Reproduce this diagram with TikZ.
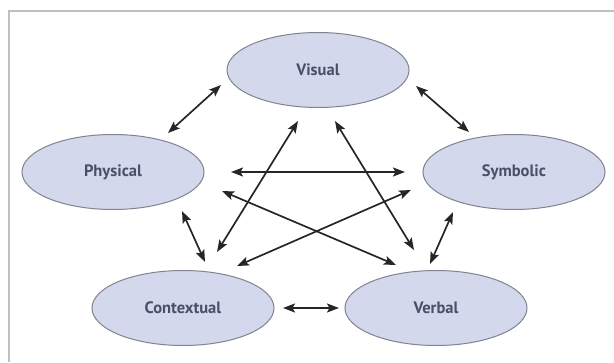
\documentclass[tikz,border=0pt]{standalone}
\usepackage{fontspec}
\setmainfont{PT Sans}
\usetikzlibrary{arrows.meta,shapes.geometric}
\definecolor{modefill}{HTML}{D3D8EC}
\definecolor{modeline}{HTML}{80838F}
\definecolor{modetext}{HTML}{4A4F68}

\begin{document}
\begin{tikzpicture}[x=1pt, y=-1pt,
		mode/.style = {ellipse, draw = modeline, fill = modefill, line width = 1pt,
			minimum width = 182pt, minimum height = 75pt, inner sep = 0pt,
			text = modetext, font = \bfseries\fontsize{16.5}{19}\selectfont},
		link/.style = {{Stealth[length=12pt,width=9pt,inset=2.5pt]}-{Stealth[length=12pt,width=9pt,inset=2.5pt]},
			line width = 1.7pt, color = black!85},
		frame/.style = {draw = black!25, line width = 2pt}]
			\useasboundingbox (0,0) rectangle (614,362);
			\draw[frame] (9,362) -- (9,11) -- (614,11);

			\node[mode] (visual) at (318,70) {Visual};
			\node[mode] (physical) at (113,172) {Physical};
			\node[mode] (symbolic) at (514,172) {Symbolic};
			\node[mode] (contextual) at (183,308) {Contextual};
			\node[mode] (verbal) at (436,308) {Verbal};

			\draw[link] ([shift={(55,-39)}]physical.center) -- ([shift={(-97,15)}]visual.center);
			\draw[link] ([shift={(98,16)}]visual.center) -- ([shift={(-45,-40)}]symbolic.center);
			\draw[link] ([shift={(118,0)}]physical.center) -- ([shift={(-109,0)}]symbolic.center);
			\draw[link] ([shift={(109,19)}]physical.center) -- ([shift={(-40,-43)}]verbal.center);
			\draw[link] ([shift={(54,-42)}]contextual.center) -- ([shift={(-103,18)}]symbolic.center);
			\draw[link] ([shift={(34,-56)}]contextual.center) -- ([shift={(-20,51)}]visual.center);
			\draw[link] ([shift={(17,51)}]visual.center) -- ([shift={(-22,-58)}]verbal.center);
			\draw[link] ([shift={(69,39)}]physical.center) -- ([shift={(22,-46)}]contextual.center);
			\draw[link] ([shift={(-6,-44)}]verbal.center) -- ([shift={(-61,40)}]symbolic.center);
			\draw[link] ([shift={(100,0)}]contextual.center) -- ([shift={(-97,0)}]verbal.center);
\end{tikzpicture}
\end{document}
